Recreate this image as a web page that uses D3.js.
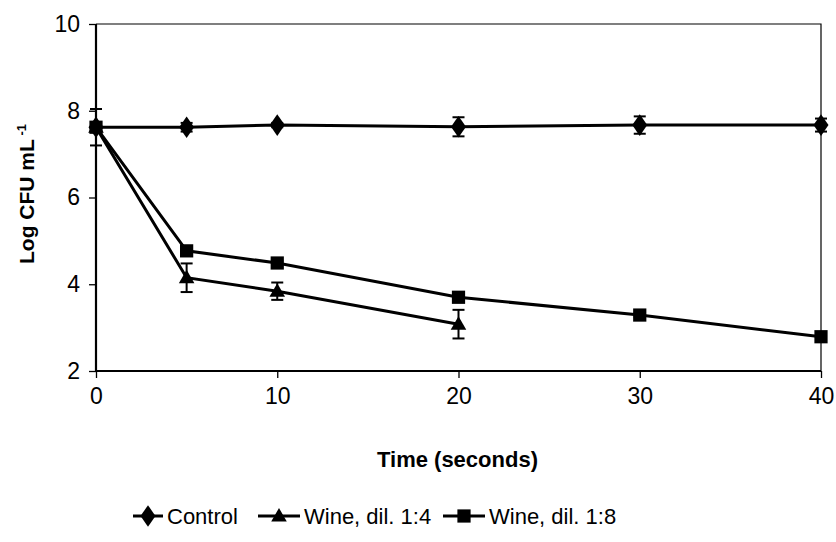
<!DOCTYPE html>
<html>
<head>
<meta charset="utf-8">
<script src="https://cdn.jsdelivr.net/npm/d3@7/dist/d3.min.js"></script>
<style>
  body { margin: 0; background: #fff; }
  svg { display: block; }
  text { font-family: "Liberation Sans", Arial, sans-serif; fill: #000; }
</style>
</head>
<body>
<svg id="chart" width="836" height="542"></svg>
<script>
// Sampling times (seconds)
const timesControl = [0, 5, 10, 20, 30, 40];
const times14 = [0, 5, 10, 20];
const times18 = [0, 5, 10, 20, 30, 40];

// Log CFU mL-1 means and standard deviations
const controlValues = [7.62, 7.62, 7.67, 7.63, 7.67, 7.67];
const controlErrors = [0.1, 0.1, 0.05, 0.22, 0.2, 0.15];
const dil14Values = [7.62, 4.15, 3.84, 3.08];
const dil14Errors = [0.42, 0.33, 0.2, 0.33];
const dil18Values = [7.62, 4.77, 4.49, 3.70, 3.29, 2.79];
const dil18Errors = [0.05, 0.05, 0.05, 0.05, 0.05, 0.05];

const xTicks = [0, 10, 20, 30, 40];
const yTicks = [2, 4, 6, 8, 10];

const seriesNames = ["Control", "Wine, dil. 1:4", "Wine, dil. 1:8"];
const seriesSymbols = [d3.symbolDiamond, d3.symbolTriangle, d3.symbolSquare];

const series = [
  { name: seriesNames[0], x: timesControl, y: controlValues, e: controlErrors, symbol: seriesSymbols[0], size: 135 },
  { name: seriesNames[1], x: times14, y: dil14Values, e: dil14Errors, symbol: seriesSymbols[1], size: 105 },
  { name: seriesNames[2], x: times18, y: dil18Values, e: dil18Errors, symbol: seriesSymbols[2], size: 175 }
];

const svg = d3.select("#chart");
const plotLeft = 96, plotRight = 821, plotTop = 24, plotBottom = 371;

const x = d3.scaleLinear().domain([0, 40]).range([plotLeft, plotRight]);
const y = d3.scaleLinear().domain([2, 10]).range([plotBottom, plotTop]);

// Plot frame (thin top and right edges)
svg.append("path")
  .attr("d", `M${plotLeft},${plotTop}H${plotRight}V${plotBottom}`)
  .attr("fill", "none").attr("stroke", "#000").attr("stroke-width", 1.2);

// Axes
const yAxis = svg.append("g").attr("transform", `translate(${plotLeft},0)`)
  .call(d3.axisLeft(y).tickValues(yTicks).tickSize(7).tickPadding(9).tickSizeOuter(0));
const xAxis = svg.append("g").attr("transform", `translate(0,${plotBottom})`)
  .call(d3.axisBottom(x).tickValues(xTicks).tickSize(7).tickPadding(10).tickSizeOuter(0));

[yAxis, xAxis].forEach(g => {
  g.select(".domain").attr("stroke", "#000").attr("stroke-width", 2.2);
  g.selectAll(".tick line").attr("stroke", "#000").attr("stroke-width", 1.3);
  g.selectAll(".tick text").style("font-size", "23px").attr("fill", "#000")
    .style("font-family", "'Liberation Sans', Arial, sans-serif");
});
xAxis.select(".domain").attr("d", `M${plotLeft},0H${plotRight}`);
yAxis.select(".domain").attr("d", `M0,${plotBottom}V${plotTop}`);

const line = d3.line().x(d => x(d[0])).y(d => y(d[1]));
const plot = svg.append("g");

// Connecting lines
series.forEach(s => {
  const pts = s.x.map((t, i) => [t, s.y[i]]);
  plot.append("path").datum(pts)
    .attr("d", line).attr("fill", "none")
    .attr("stroke", "#000").attr("stroke-width", 3);
});

// Error bars
series.forEach(s => {
  s.x.forEach((t, i) => {
    const cx = x(t), y1 = y(s.y[i] + s.e[i]), y2 = y(s.y[i] - s.e[i]);
    const g = plot.append("g").attr("stroke", "#000").attr("stroke-width", 2);
    g.append("line").attr("x1", cx).attr("x2", cx).attr("y1", y1).attr("y2", y2);
    g.append("line").attr("x1", cx - 6).attr("x2", cx + 6).attr("y1", y1).attr("y2", y1);
    g.append("line").attr("x1", cx - 6).attr("x2", cx + 6).attr("y1", y2).attr("y2", y2);
  });
});

// Markers
function markerTransform(s, cx, cy) {
  const dy = s.symbol === d3.symbolTriangle ? 1 : 0;
  return `translate(${cx},${cy + dy})` + (s.symbol === d3.symbolDiamond ? " scale(1.2,1)" : "");
}
series.forEach(s => {
  const sym = d3.symbol().type(s.symbol).size(s.size);
  s.x.forEach((t, i) => {
    plot.append("path").attr("d", sym())
      .attr("transform", markerTransform(s, x(t), y(s.y[i])))
      .attr("fill", "#000");
  });
});

// Axis titles
svg.append("text")
  .attr("x", (plotLeft + plotRight) / 2 - 1).attr("y", 467)
  .attr("text-anchor", "middle")
  .style("font-size", "22px").style("font-weight", "bold")
  .text("Time (seconds)");

const yTitle = svg.append("text")
  .attr("transform", "translate(34,194) rotate(-90)")
  .attr("text-anchor", "middle")
  .style("font-size", "21px").style("font-weight", "bold");
yTitle.append("tspan").text("Log CFU mL");
yTitle.append("tspan").attr("dy", -8).style("font-size", "13px").text(" -1");

// Legend
const legendX = [133, 258, 443];
const legend = svg.append("g");
series.forEach((s, i) => {
  const lx = legendX[i];
  const w = i === 0 ? 30 : 42;
  const g = legend.append("g");
  g.append("line").attr("x1", lx).attr("x2", lx + w).attr("y1", 516).attr("y2", 516)
    .attr("stroke", "#000").attr("stroke-width", 3);
  g.append("path").attr("d", d3.symbol().type(s.symbol).size(s.size)())
    .attr("transform", markerTransform(s, lx + w / 2, 516))
    .attr("fill", "#000");
  g.append("text").attr("x", lx + w + 4).attr("y", 524)
    .style("font-size", "22px").text(s.name);
});
</script>
</body>
</html>
